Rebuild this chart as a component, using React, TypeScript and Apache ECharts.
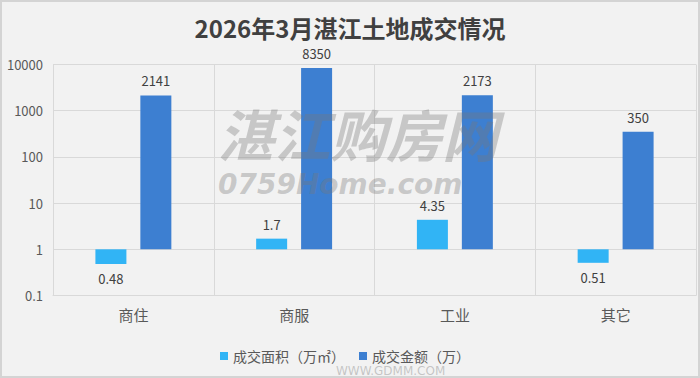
import React, { useEffect, useRef } from "react";
import * as echarts from "echarts";

const titleText = "2026年3月湛江土地成交情况";
const categories = ["商住", "商服", "工业", "其它"];
const areaName = "成交面积（万㎡）";
const amountName = "成交金额（万）";
const areaValues = [0.48, 1.7, 4.35, 0.51];
const amountValues = [2141, 8350, 2173, 350];
const yMin = 0.1;
const yMax = 10000;

const FONT = '"Microsoft YaHei", "Noto Sans CJK SC", sans-serif';

export default function App() {
  const ref = useRef<HTMLDivElement>(null);
  useEffect(() => {
    document.body.style.margin = "0";
    const chart = echarts.init(ref.current!, null, { renderer: "svg" });
    const labelFor = (v: number) => ({
      value: v,
      label: { position: v < 1 ? "bottom" : "top" },
    });
    chart.setOption({
      animation: false,
      backgroundColor: "#f2f2f2",
      textStyle: { fontFamily: FONT },
      title: {
        text: titleText,
        left: "center",
        top: 14,
        padding: 0,
        textStyle: { fontSize: 24, fontWeight: "bold", color: "#404040", fontFamily: FONT, lineHeight: 26 },
      },
      legend: {
        top: 344,
        left: 215,
        icon: "rect",
        itemWidth: 8,
        itemHeight: 8,
        itemGap: 14,
        textStyle: { fontSize: 14, color: "#595959", fontFamily: FONT, lineHeight: 14 },
        data: [areaName, amountName],
      },
      grid: { left: 53, right: 4, top: 64.5, bottom: 82.5, containLabel: false },
      xAxis: {
        type: "category",
        data: categories,
        axisLine: { show: true, lineStyle: { color: "#d9d9d9" } },
        axisTick: { show: false },
        splitLine: { show: true, lineStyle: { color: "#d9d9d9" } },
        axisLabel: { fontSize: 15, color: "#595959", margin: 11, fontFamily: FONT },
      },
      yAxis: {
        type: "log",
        logBase: 10,
        min: yMin,
        max: yMax,
        axisLine: { show: false },
        axisTick: { show: false },
        splitLine: { show: true, lineStyle: { color: "#d9d9d9" } },
        axisLabel: {
          fontSize: 13,
          color: "#595959",
          margin: 10,
          fontFamily: FONT,
          formatter: (v: number) => (v >= 1 ? String(Math.round(v)) : String(Number(v.toPrecision(3)))),
        },
      },
      series: [
        {
          name: areaName,
          type: "bar",
          barWidth: 31,
          barGap: "45%",
          itemStyle: { color: "#31b4f5" },
          label: { show: true, fontSize: 13, color: "#404040", distance: 8, fontFamily: FONT },
          data: areaValues.map(labelFor),
        },
        {
          name: amountName,
          type: "bar",
          barWidth: 31,
          itemStyle: { color: "#3d7fd1" },
          label: { show: true, fontSize: 13, color: "#404040", distance: 8, fontFamily: FONT },
          data: amountValues.map(labelFor),
        },
      ],
      graphic: [
        {
          type: "rect",
          shape: { x: 1, y: 1, width: 698, height: 376 },
          style: { fill: "none", stroke: "#d4d4d4", lineWidth: 2 },
          silent: true,
          z: 100,
        },
        {
          type: "text",
          left: 218,
          top: 104,
          z: 100,
          silent: true,
          style: {
            text: "湛江购房网",
            font: 'italic bold 56px "Noto Sans CJK SC", sans-serif',
            lineHeight: 54,
            fill: "rgba(120,120,120,0.35)",
          },
        },
        {
          type: "text",
          left: 218,
          top: 170,
          z: 100,
          silent: true,
          style: {
            text: "0759Home.com",
            font: 'italic bold 28px "DejaVu Sans", sans-serif',
            lineHeight: 22,
            letterSpacing: 1.5,
            fill: "rgba(120,120,120,0.35)",
          },
        },
        {
          type: "text",
          left: 336,
          top: 365,
          z: 100,
          silent: true,
          style: {
            text: "WWW.GDMM.COM",
            font: '12px "DejaVu Sans", sans-serif',
            lineHeight: 12,
            fill: "rgba(140,140,140,0.45)",
          },
        },
      ],
    });
    return () => chart.dispose();
  }, []);
  return (
    <div
      ref={ref}
      style={{ position: "absolute", left: 0, top: 0, width: 700, height: 378 }}
    />
  );
}
